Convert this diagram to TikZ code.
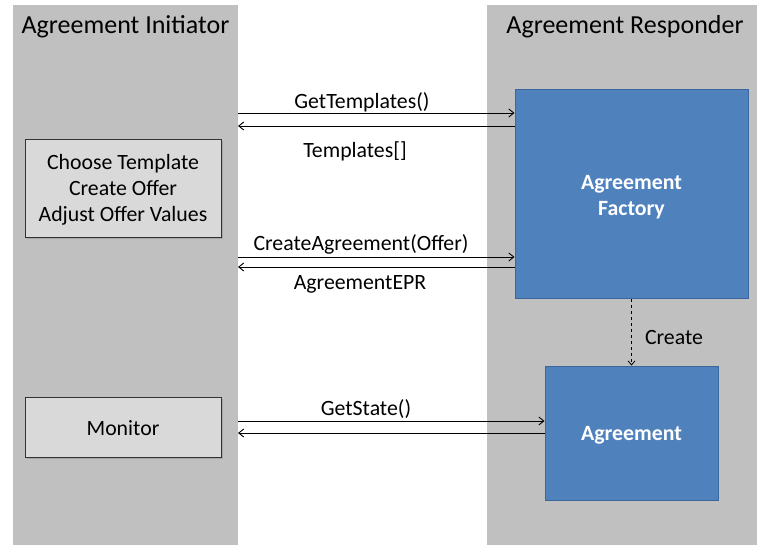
\documentclass[tikz,border=0pt]{standalone}
\usepackage{fontspec}
\setmainfont{Carlito}
\usetikzlibrary{arrows.meta}
\definecolor{lane}{HTML}{C0C0C0}
\definecolor{step}{HTML}{D9D9D9}
\definecolor{blu}{HTML}{4F81BD}
\definecolor{bluedge}{HTML}{3A679C}
\begin{document}
\begin{tikzpicture}[x=1pt,y=-1pt,
  lanebox/.style={fill=lane,draw=none},
  taskbox/.style={fill=step,draw=black!80,line width=0.8pt,inner sep=0pt},
  tasktext/.style={align=center,font=\fontsize{21.8}{26}\selectfont,inner sep=0pt},
  svcbox/.style={fill=blu,draw=bluedge,line width=1pt,inner sep=0pt},
  svctext/.style={align=center,text=white,font=\fontsize{21.8}{26}\selectfont\bfseries,inner sep=0pt},
  msg/.style={-{Straight Barb[length=5pt,width=8pt]},line width=0.9pt},
  lbl/.style={font=\fontsize{21.8}{24}\selectfont,inner sep=0pt},
  title/.style={font=\fontsize{26}{28}\selectfont,inner sep=0pt}]
\useasboundingbox (0,0) rectangle (759,545);
\fill[white] (0,0) rectangle (759,545);
% swim lanes
\fill[lanebox] (13,5) rectangle (238,545);
\fill[lanebox] (487,5) rectangle (757,545);
\node[title] (tinit) at (125.5,27) {Agreement Initiator};
\node[title] (tresp) at (625,27) {Agreement Responder};
% initiator tasks (with a faint drop shadow)
\fill[black!35] (27,141) rectangle (223,239);
\node[taskbox,minimum width=196pt,minimum height=98pt] (choose) at (123,188) {};
\node[tasktext] (choosetxt) at ([yshift=-2pt]choose.center) {Choose Template\\Create Offer\\Adjust Offer Values};
\fill[black!35] (27,399) rectangle (223,459);
\node[taskbox,minimum width=196pt,minimum height=60pt] (monitor) at (123,427) {};
\node[tasktext] (monitortxt) at ([yshift=-1pt]monitor.center) {Monitor};
% responder services
\node[svcbox,minimum width=233pt,minimum height=208pt] (factory) at (631.5,194) {};
\node[svctext] (factorytxt) at ([yshift=-3.5pt]factory.center) {Agreement\\Factory};
\node[svcbox,minimum width=173pt,minimum height=134pt] (agr) at (631.5,433) {};
\node[svctext] (agrtxt) at ([yshift=-2.5pt]agr.center) {Agreement};
% lane edges used as message end points
\coordinate (l1) at (238,113);
\coordinate (l2) at (238,126);
\coordinate (l3) at (238,257);
\coordinate (l4) at (238,267);
\coordinate (l5) at (238,421);
\coordinate (l6) at (238,433);
% messages
\draw[msg] (l1) -- (l1 -| factory.west);
\draw[msg] (l2 -| factory.west) -- (l2);
\draw[msg] (l3) -- (l3 -| factory.west);
\draw[msg] (l4 -| factory.west) -- (l4);
\draw[msg] (l5) -- (l5 -| agr.west);
\draw[msg] (l6 -| agr.west) -- (l6);
\node[lbl] (m1) at (362,102) {GetTemplates()};
\node[lbl] (m2) at (355,151) {Templates[]};
\node[lbl] (m3) at (361,244) {CreateAgreement(Offer)};
\node[lbl] (m4) at (360,284) {AgreementEPR};
\node[lbl] (m5) at (366,409) {GetState()};
% creation
\draw[-{Straight Barb[length=4pt,width=7pt]},dashed,line width=0.8pt] (factory.south) -- (agr.north);
\node[lbl] (mc) at (674,338) {Create};
\end{tikzpicture}
\end{document}
